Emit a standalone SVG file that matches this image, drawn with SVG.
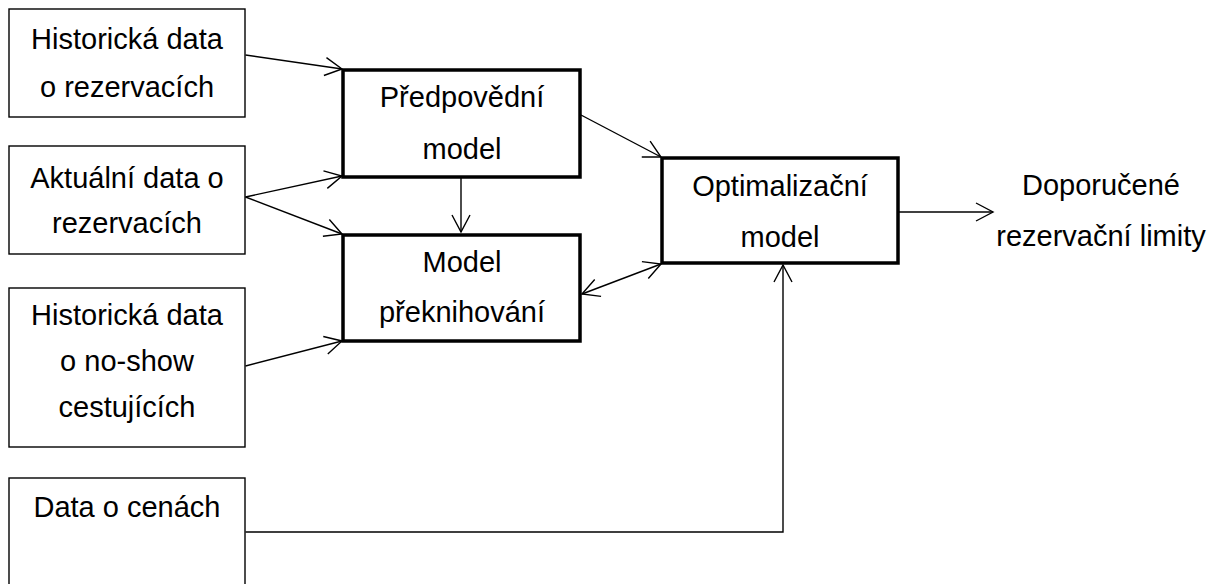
<svg xmlns="http://www.w3.org/2000/svg" width="1216" height="584" viewBox="0 0 1216 584">
<defs>
<style>
.t{font-family:"Liberation Sans",Arial,sans-serif;font-size:29px;fill:#000;text-anchor:middle}
.thin{fill:#fff;stroke:#000;stroke-width:1.4}
.bold{fill:#fff;stroke:#000;stroke-width:3.5}
.c{fill:none;stroke:#000;stroke-width:1.4}
</style>
<marker id="ah" markerUnits="userSpaceOnUse" markerWidth="24" markerHeight="24" viewBox="-20 -12 24 24" refX="0" refY="0" orient="auto-start-reverse">
<path d="M-17,-9 L0,0 L-17,9" fill="none" stroke="#000" stroke-width="1.4"/>
</marker>
</defs>
<rect width="1216" height="584" fill="#fff"/>
<g id="n1"><rect class="thin" x="9" y="9" width="236" height="108"/>
<text class="t" x="127" y="49">Historická data</text><text class="t" x="127" y="97">o rezervacích</text></g>
<g id="n2"><rect class="thin" x="9" y="146" width="236" height="108"/>
<text class="t" x="127" y="188">Aktuální data o</text><text class="t" x="127" y="233">rezervacích</text></g>
<g id="n3"><rect class="thin" x="9" y="288" width="236" height="159"/>
<text class="t" x="127" y="325">Historická data</text><text class="t" x="127" y="371">o no-show</text><text class="t" x="127" y="417">cestujících</text></g>
<g id="n4"><rect class="thin" x="9" y="478" width="236" height="130"/>
<text class="t" x="127" y="517">Data o cenách</text></g>
<g id="n5"><rect class="bold" x="343" y="70" width="237" height="107"/>
<text class="t" x="462" y="107">Předpovědní</text><text class="t" x="462" y="159">model</text></g>
<g id="n6"><rect class="bold" x="343" y="235" width="237" height="106"/>
<text class="t" x="462" y="272">Model</text><text class="t" x="462" y="322">překnihování</text></g>
<g id="n7"><rect class="bold" x="662" y="158" width="236" height="105"/>
<text class="t" x="780" y="196">Optimalizační</text><text class="t" x="780" y="247">model</text></g>
<g id="n8"><text class="t" x="1101" y="195">Doporučené</text><text class="t" x="1101" y="246">rezervační limity</text></g>
<g id="connectors">
<path class="c" d="M245.5,55 L342,69" marker-end="url(#ah)"/>
<path class="c" d="M245.5,197 L342,176" marker-end="url(#ah)"/>
<path class="c" d="M245.5,197 L342,234" marker-end="url(#ah)"/>
<path class="c" d="M245.5,366 L342,341" marker-end="url(#ah)"/>
<path class="c" d="M461,178 L461,232" marker-end="url(#ah)"/>
<path class="c" d="M581,115 L661,157" marker-end="url(#ah)"/>
<path class="c" d="M582,294 L661,264" marker-start="url(#ah)" marker-end="url(#ah)"/>
<path class="c" d="M245.5,532 L783,532 L783,265" marker-end="url(#ah)"/>
<path class="c" d="M899,212 L993,212" marker-end="url(#ah)"/>
</g>
</svg>
